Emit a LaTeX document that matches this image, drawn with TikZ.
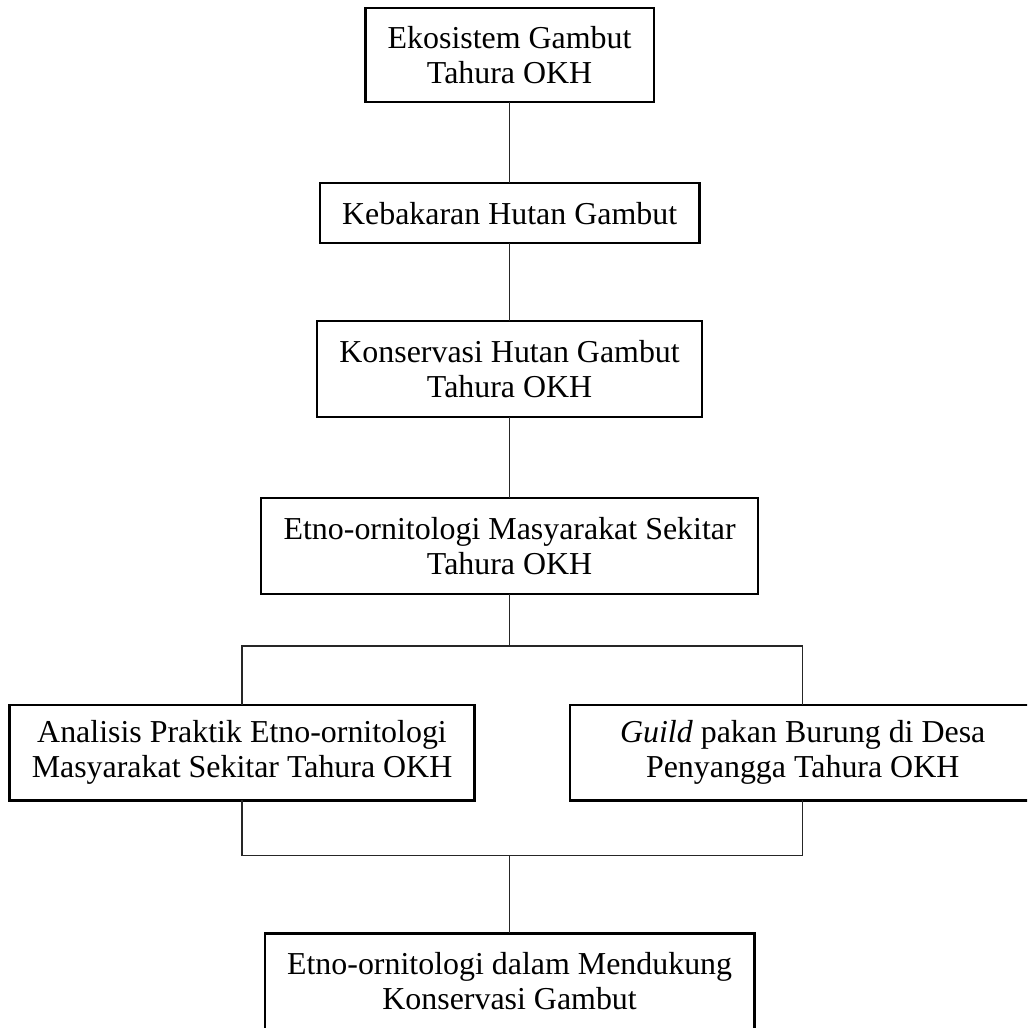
\documentclass[tikz,border=0pt]{standalone}
\usepackage{fontspec}
\setmainfont{Liberation Serif}
\usetikzlibrary{positioning}

\begin{document}
\begin{tikzpicture}[node distance=30.5pt,
font=\fontsize{12}{13.2}\selectfont,
garis/.style={
  line width=0.5pt,
  draw=black!85
},
kotak/.style={
  align=center,
  rectangle,
  line width=0.9pt,
  draw=black,
  outer sep=0pt,
  inner xsep=8.4pt,
  inner ysep=3pt,
  minimum height=36pt
},
kotakkecil/.style={
  kotak,
  minimum height=22.6pt
}]
\useasboundingbox (-191.6pt,20.7pt) rectangle (194.6pt,-365.8pt);
\clip (-191.6pt,20.7pt) rectangle (194.6pt,-365.8pt);

\node[kotak, minimum height=35.3pt] (EG) {Ekosistem Gambut\\Tahura OKH};
\node[kotakkecil] (KH) [below=of EG] {Kebakaran Hutan Gambut};

\draw[garis] (EG) -- (KH);
\node[kotak] (KG) [below=29.3pt of KH] {Konservasi Hutan Gambut\\Tahura OKH};
\node[kotak] (EM) [below=of KG] {Etno-ornitologi Masyarakat Sekitar\\Tahura OKH};

\draw[garis] (KH) -- (KG);
\draw[garis] (KG) -- (EM);

\node[kotak] (AP) [below=41.7pt of EM, xshift=-100.6pt] {Analisis Praktik Etno-ornitologi\\Masyarakat Sekitar Tahura OKH};
\node[kotak, minimum width=175pt] (GP) [below=41.7pt of EM, xshift=110.2pt] {\textit{Guild} pakan Burung di Desa\\Penyangga Tahura OKH};

\path (EM.south) ++(0,-19.6pt) coordinate (cabang);
\draw[garis] (EM) -- (cabang);
\draw[garis] (AP) |- (cabang) -| (GP);

\path (AP.south -| EM.south) ++(0,-20.7pt) coordinate (gabung);
\draw[garis] (AP) |- (gabung) -| (GP);

\node[kotak] (EK) [below=29.3pt of gabung] {Etno-ornitologi dalam Mendukung\\Konservasi Gambut};

\draw[garis] (gabung) -- (EK);


\end{tikzpicture}
\end{document}
